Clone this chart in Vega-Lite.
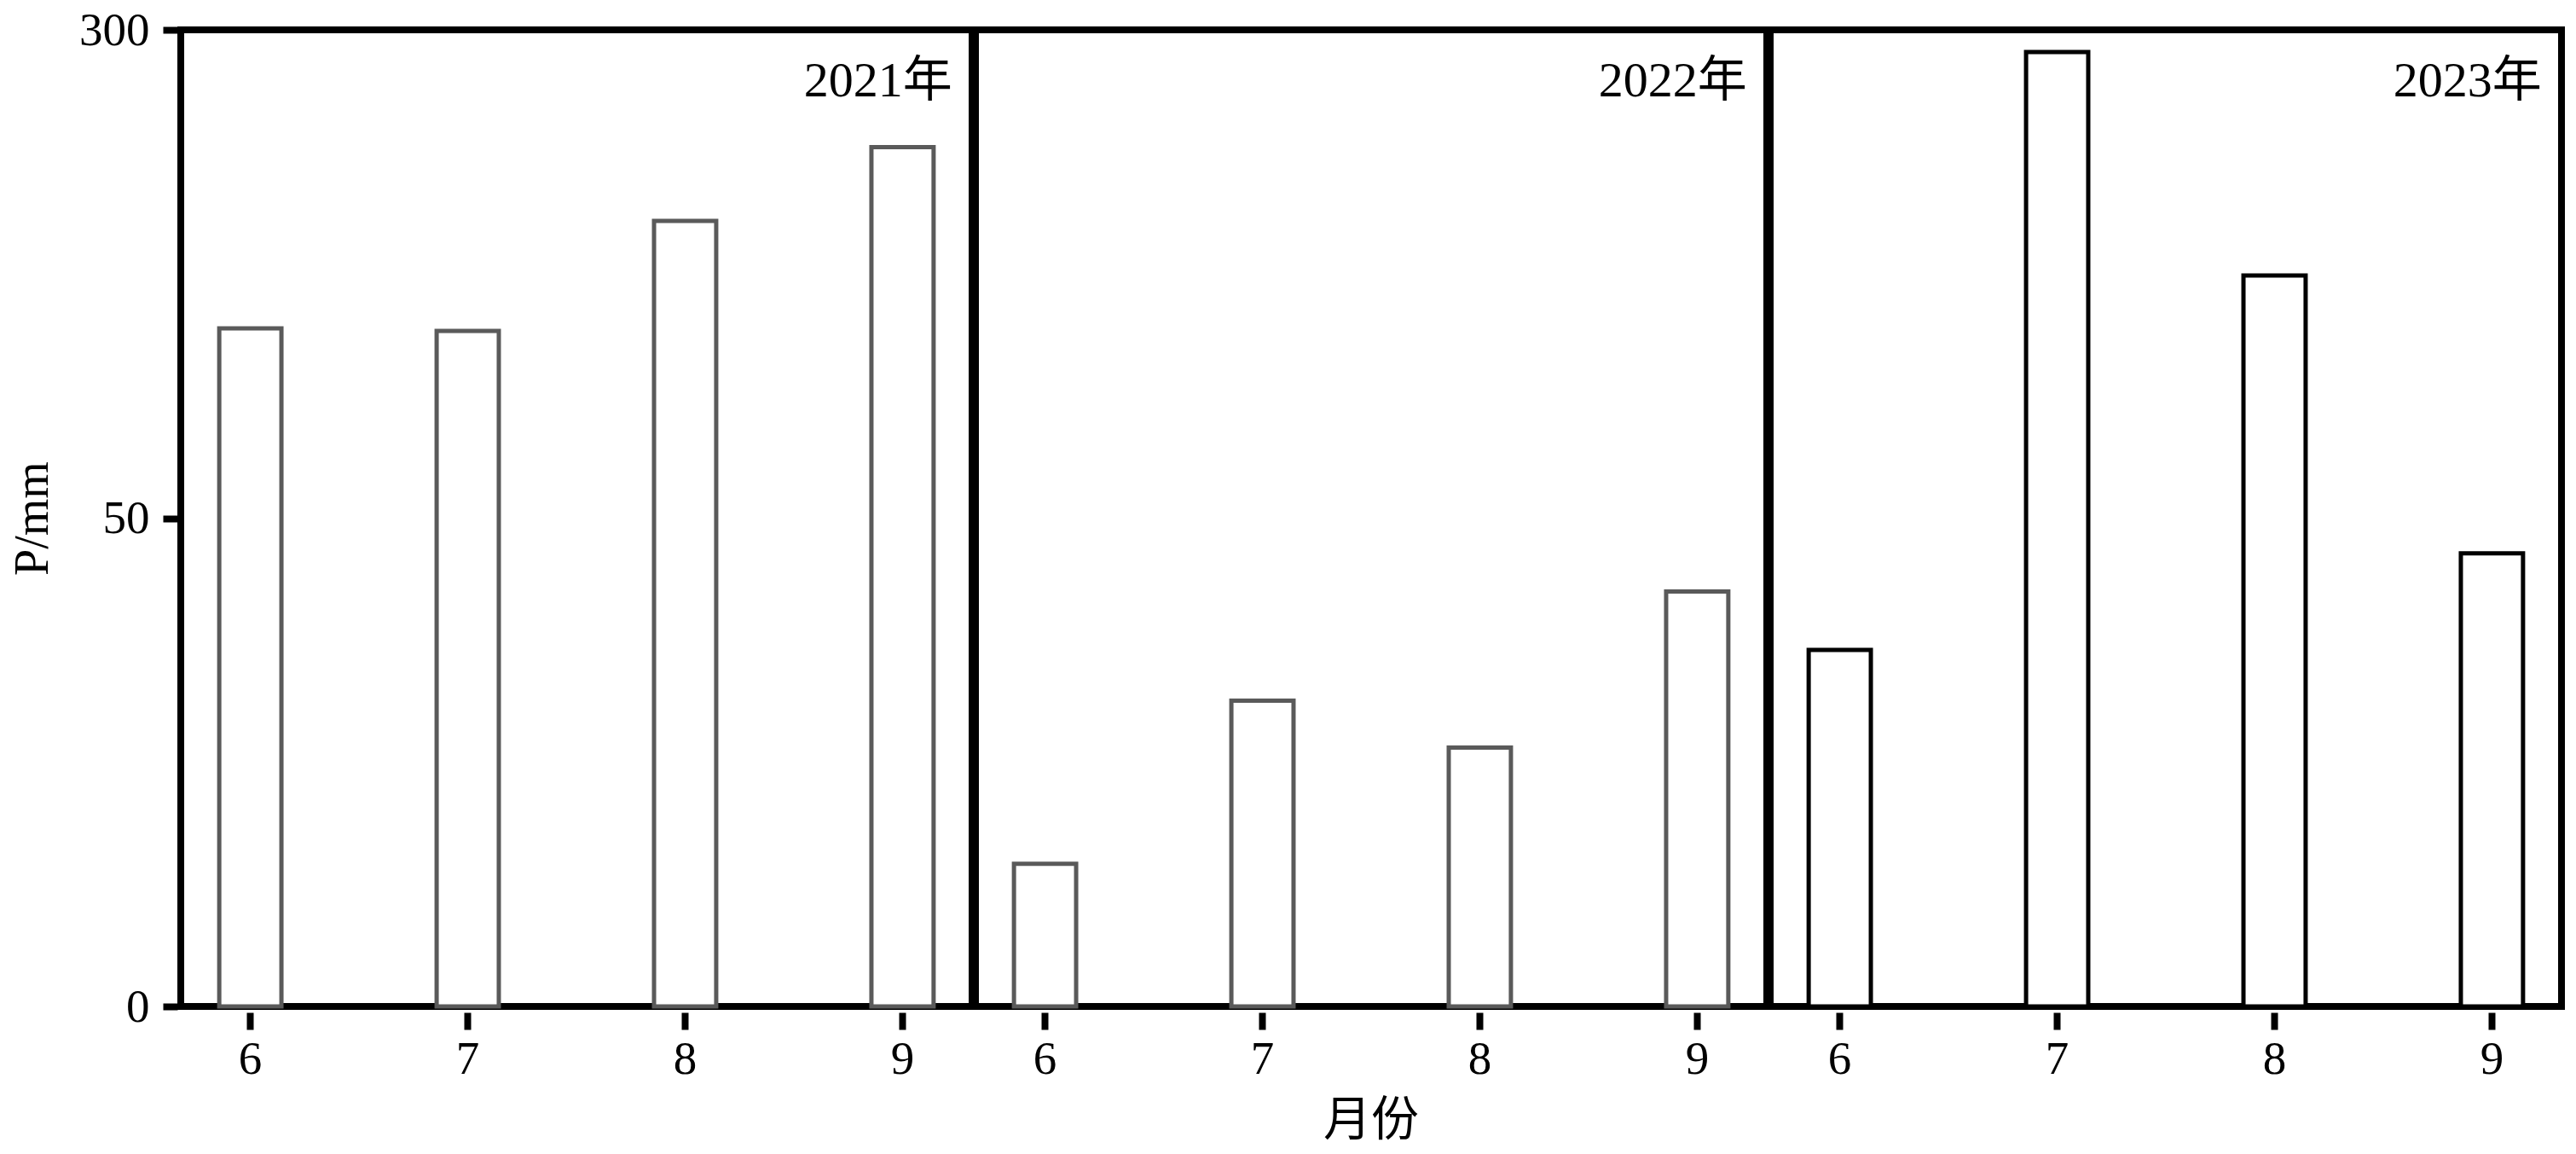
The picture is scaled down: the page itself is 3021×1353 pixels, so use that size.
{
  "$schema": "https://vega.github.io/schema/vega-lite/v6.json",
  "padding": {"left": 10, "top": 8, "right": 18, "bottom": 4},
  "background": "white",
  "data": {
    "values": [
      {"year": 2021, "month": 6, "P": 147.2},
      {"year": 2021, "month": 7, "P": 145.9},
      {"year": 2021, "month": 8, "P": 202.2},
      {"year": 2021, "month": 9, "P": 240.0},
      {"year": 2022, "month": 6, "P": 14.6},
      {"year": 2022, "month": 7, "P": 31.3},
      {"year": 2022, "month": 8, "P": 26.5},
      {"year": 2022, "month": 9, "P": 42.5},
      {"year": 2023, "month": 6, "P": 36.5},
      {"year": 2023, "month": 7, "P": 288.6},
      {"year": 2023, "month": 8, "P": 174.2},
      {"year": 2023, "month": 9, "P": 46.4}
    ]
  },
  "facet": {
    "column": {
      "field": "year",
      "type": "ordinal",
      "title": "月份",
      "header": {
        "labels": false,
        "titleOrient": "bottom",
        "titleFontSize": 56,
        "titleFont": "Liberation Serif, Noto Sans CJK SC",
        "titleFontWeight": "normal",
        "titleColor": "black",
        "titlePadding": 8
      }
    }
  },
  "spacing": -11,
  "spec": {
    "width": 928,
    "height": 1145,
    "layer": [
      {
        "mark": {"type": "bar", "fill": "white", "strokeWidth": 5},
        "encoding": {
          "x": {
            "field": "month",
            "type": "ordinal",
            "title": null,
            "scale": {"paddingInner": 0.714, "paddingOuter": 0.177},
            "axis": {"labelAngle": 0, "tickSize": 20, "labelPadding": 8}
          },
          "y": {
            "field": "P",
            "type": "quantitative",
            "title": "P/mm",
            "scale": {"domain": [0, 50, 300], "range": [1145, 572.5, 0], "nice": false, "zero": false},
            "axis": {"values": [0, 50, 300], "tickSize": 17, "labelPadding": 16, "titlePadding": 25, "grid": false}
          },
          "stroke": {
            "field": "year",
            "type": "ordinal",
            "scale": {"domain": [2021, 2022, 2023], "range": ["#5a5a5a", "#5a5a5a", "#000000"]},
            "legend": null
          }
        }
      },
      {
        "transform": [{"filter": "datum.month == 9"}],
        "mark": {
          "type": "text",
          "align": "right",
          "baseline": "alphabetic",
          "dx": 22,
          "dy": 78,
          "fontSize": 58,
          "font": "Liberation Serif, Noto Sans CJK SC",
          "color": "black",
          "text": {"expr": "datum.year + '年'"}
        },
        "encoding": {
          "x": {"field": "month", "type": "ordinal", "bandPosition": 1},
          "y": {"datum": 300}
        }
      }
    ]
  },
  "config": {
    "view": {"stroke": "black", "strokeWidth": 8},
    "axis": {
      "domain": false,
      "grid": false,
      "tickColor": "black",
      "tickWidth": 8,
      "labelFont": "Liberation Serif, Noto Sans CJK SC",
      "labelFontSize": 55,
      "labelColor": "black",
      "titleFont": "Liberation Serif, Noto Sans CJK SC",
      "titleFontSize": 56,
      "titleFontWeight": "normal",
      "titleColor": "black"
    }
  }
}
